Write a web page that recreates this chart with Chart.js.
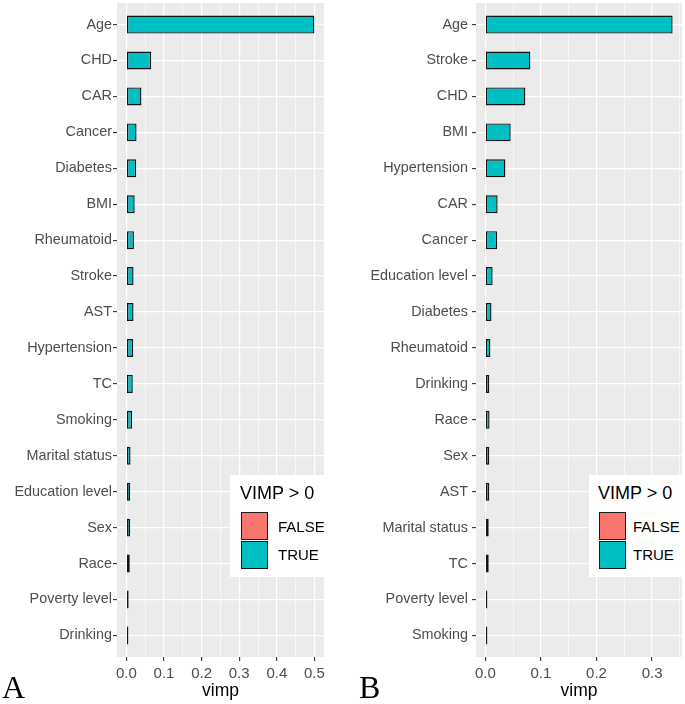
<!DOCTYPE html>
<html><head><meta charset="utf-8">
<script src="https://cdn.jsdelivr.net/npm/chart.js@4/dist/chart.umd.min.js"></script>
<style>
html,body{margin:0;padding:0;background:#fff;}
#wrap{position:relative;width:685px;height:704px;overflow:hidden;font-family:"Liberation Sans",Arial,sans-serif;}
canvas{position:absolute;top:0;}
.abs{position:absolute;white-space:nowrap;line-height:1;}
.panel{font-family:"Liberation Serif","Times New Roman",serif;font-size:32px;color:#000;}
.lgbox{position:absolute;background:#fff;}
.key{position:absolute;box-sizing:border-box;border:1.3px solid #1a1a1a;}
</style></head><body>
<div id="wrap">
<canvas id="cA" width="335" height="704" style="left:0px"></canvas>
<canvas id="cB" width="345" height="704" style="left:340px"></canvas>
</div>
<script>
// ---- Data ----
const catsA = ['Age','CHD','CAR','Cancer','Diabetes','BMI','Rheumatoid','Stroke','AST','Hypertension','TC','Smoking','Marital status','Education level','Sex','Race','Poverty level','Drinking'];
const vimpA = [0.500,0.066,0.040,0.027,0.026,0.022,0.020,0.019,0.019,0.018,0.017,0.015,0.011,0.010,0.010,0.009,0.006,0.003];

const catsB = ['Age','Stroke','CHD','BMI','Hypertension','CAR','Cancer','Education level','Diabetes','Rheumatoid','Drinking','Race','Sex','AST','Marital status','TC','Poverty level','Smoking'];
const vimpB = [0.337,0.081,0.072,0.0455,0.036,0.022,0.021,0.013,0.011,0.009,0.007,0.0075,0.007,0.007,0.006,0.006,0.0024,0.002];

const xMajorA = [0,0.1,0.2,0.3,0.4,0.5];
const xTickLabelsA = ['0.0','0.1','0.2','0.3','0.4','0.5'];
const xMinorA = [0.05,0.15,0.25,0.35,0.45];
const xMajorB = [0,0.1,0.2,0.3];
const xTickLabelsB = ['0.0','0.1','0.2','0.3'];
const xMinorB = [0.05,0.15,0.25,0.35];

const legendTitle = 'VIMP > 0';
const legendLabels = ['FALSE','TRUE'];
const legendColors = ['#F8766D','#00BFC4'];
const panelLetters = ['A','B'];
const axisTitle = 'vimp';

// ---- Chart builder ----
const bgPlugin = {
  id:'panelBg',
  beforeDraw(chart){
    const a = chart.chartArea, c = chart.ctx;
    c.save(); c.fillStyle = '#EBEBEB';
    c.fillRect(a.left, a.top, a.right - a.left, a.bottom - a.top);
    c.restore();
  }
};

function makeChart(id, cats, vals, xMin, xMax, majors, majorLabels, minors, yW, padRight, labelPad){
  const xt = majors.map(v=>({value:v, major:true})).concat(minors.map(v=>({value:v, major:false})))
    .sort((a,b)=>a.value-b.value);
  const labelFor = v => { const k = majors.findIndex(m=>Math.abs(m-v)<1e-9); return k>=0 ? majorLabels[k] : ''; };
  return new Chart(document.getElementById(id), {
    type:'bar',
    data:{
      datasets:[{
        data: vals.map((v,i)=>({x:v, y:i})),
        backgroundColor: vals.map(v => v>0 ? legendColors[1] : legendColors[0]),
        borderColor:'#141414',
        borderWidth:1.4,
        borderSkipped:false,
        minBarLength:2,
        barPercentage:0.5,
        categoryPercentage:1
      }]
    },
    options:{
      indexAxis:'y',
      responsive:false,
      animation:false,
      devicePixelRatio:1,
      layout:{padding:{left:0,right:padRight,top:3,bottom:0}},
      plugins:{legend:{display:false},tooltip:{enabled:false}},
      scales:{
        x:{
          type:'linear', position:'bottom', min:xMin, max:xMax, offset:false,
          afterBuildTicks: s => { s.ticks = xt.map(t=>({value:t.value, major:t.major})); },
          afterFit: s => { s.height = 47; s.paddingLeft = 0; s.paddingRight = 0; },
          border:{display:false},
          grid:{
            offset:false,
            color:'#FFFFFF',
            lineWidth: c => (c.tick && c.tick.major) ? 1.2 : 0.6,
            drawTicks:true, tickLength:4, tickWidth:1.1,
            tickColor: c => (c.tick && c.tick.major) ? '#333333' : 'rgba(0,0,0,0)'
          },
          ticks:{
            autoSkip:false, maxRotation:0, padding:3.5,
            color:'#4D4D4D', font:{family:'"Liberation Sans", Arial, sans-serif', size:15},
            callback: (v) => labelFor(v)
          },
          title:{display:true, text:axisTitle, color:'#000', font:{family:'"Liberation Sans", Arial, sans-serif', size:17.5}, padding:{top:0,bottom:2}}
        },
        y:{
          type:'linear', position:'left', reverse:true, min:-0.6, max:cats.length-1+0.6, offset:false,
          afterBuildTicks: s => { s.ticks = cats.map((c,i)=>({value:i})); },
          afterFit: s => { s.width = yW; s.paddingTop = 0; s.paddingBottom = 0; },
          border:{display:false},
          grid:{offset:false, color:'#FFFFFF', lineWidth:1.2, drawTicks:true, tickLength:4, tickWidth:1.1, tickColor:'#333333'},
          ticks:{
            autoSkip:false, padding:labelPad,
            color:'#4D4D4D', font:{family:'"Liberation Sans", Arial, sans-serif', size:14.4},
            callback: (v) => cats[Math.round(v)]
          }
        }
      }
    },
    plugins:[bgPlugin]
  });
}

makeChart('cA', catsA, vimpA, -0.025, 0.5255, xMajorA, xTickLabelsA, xMinorA, 117, 11, 1);
makeChart('cB', catsB, vimpB, -0.0169, 0.3539, xMajorB, xTickLabelsB, xMinorB, 136, 3, 4);

// ---- Legends and panel letters (HTML text) ----
const wrap = document.getElementById('wrap');
function el(cls, css, text){
  const d = document.createElement('div'); d.className = cls; d.style.cssText = css;
  if (text !== undefined) d.textContent = text; wrap.appendChild(d); return d;
}
function legend(boxL, boxW, keyL, textL){
  el('lgbox', `left:${boxL}px;top:475px;width:${boxW}px;height:102px;`);
  el('abs', `left:${keyL-1}px;top:${499-15.2}px;font-size:18px;color:#000;`, legendTitle);
  legendLabels.forEach((lab,i)=>{
    el('key', `left:${keyL}px;top:${512+i*28.5}px;width:27px;height:28px;background:${legendColors[i]};`);
    el('abs', `left:${textL}px;top:${531.5+i*28.5-12.7}px;font-size:15px;color:#000;`, lab);
  });
}
legend(230, 94, 241, 278);
legend(589, 93, 599, 633);
el('abs panel', 'left:2px;top:671px;', panelLetters[0]);
el('abs panel', 'left:359px;top:671px;', panelLetters[1]);
</script>
</body></html>
